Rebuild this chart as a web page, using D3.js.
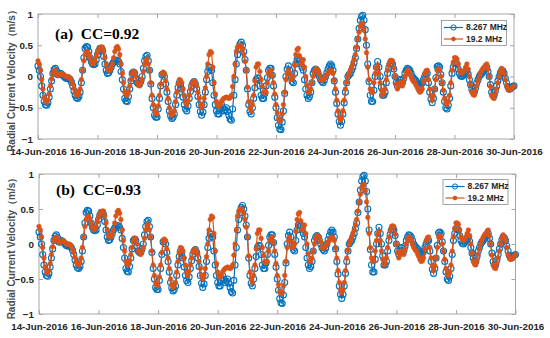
<!DOCTYPE html>
<html>
<head>
<meta charset="utf-8">
<script src="https://cdn.jsdelivr.net/npm/d3@7"></script>
<style>
  body { margin: 0; background: #fff; }
  svg { display: block; }
  .tick text { font-family: "Liberation Sans", Arial, sans-serif; font-weight: bold; }
</style>
</head>
<body>
<div id="chart"></div>
<script>
// radial current velocity (m/s), hourly from 14-Jun-2016 00:00, one row per day
const blue = [
  0.17, 0.1, 0.0, -0.15, -0.3, -0.4, -0.45, -0.46, -0.42, -0.33, -0.2, -0.07, 0.05, 0.11, 0.13, 0.09, 0.03, 0.03, 0.05, 0.04, 0.02, 0.0, -0.02, -0.03,
  -0.02, -0.03, -0.05, -0.09, -0.15, -0.23, -0.3, -0.34, -0.35, -0.32, -0.25, -0.1, 0.1, 0.3, 0.45, 0.48, 0.47, 0.4, 0.3, 0.24, 0.2, 0.19, 0.2, 0.27,
  0.35, 0.41, 0.45, 0.45, 0.42, 0.32, 0.2, 0.1, 0.05, 0.06, 0.1, 0.15, 0.2, 0.23, 0.25, 0.26, 0.26, 0.24, 0.2, 0.08, -0.05, -0.2, -0.35, -0.39,
  -0.4, -0.32, -0.2, -0.07, 0.05, 0.07, 0.05, -0.03, -0.1, -0.12, -0.12, -0.07, 0.0, 0.13, 0.25, 0.32, 0.34, 0.25, 0.1, -0.12, -0.35, -0.5, -0.62, -0.65,
  -0.65, -0.52, -0.35, -0.15, 0.03, 0.04, 0.0, -0.12, -0.25, -0.4, -0.55, -0.63, -0.67, -0.65, -0.6, -0.45, -0.3, -0.18, -0.1, -0.13, -0.2, -0.33, -0.45, -0.52,
  -0.55, -0.47, -0.35, -0.24, -0.15, -0.1, -0.08, -0.12, -0.2, -0.32, -0.45, -0.56, -0.62, -0.57, -0.45, -0.25, -0.05, 0.08, 0.15, 0.14, 0.1, -0.1, -0.3, -0.45,
  -0.55, -0.6, -0.6, -0.52, -0.45, -0.5, -0.55, -0.53, -0.5, -0.56, -0.62, -0.68, -0.7, -0.52, -0.3, -0.05, 0.2, 0.35, 0.45, 0.52, 0.55, 0.5, 0.4, 0.27,
  0.1, -0.2, -0.45, -0.56, -0.6, -0.5, -0.35, -0.18, -0.05, -0.02, -0.03, -0.15, -0.3, -0.35, -0.35, -0.27, -0.15, -0.02, 0.1, 0.13, 0.13, 0.02, -0.15, -0.33,
  -0.5, -0.66, -0.78, -0.84, -0.85, -0.73, -0.55, -0.27, 0.0, 0.12, 0.17, 0.1, 0.0, -0.08, -0.1, 0.05, 0.2, 0.27, 0.3, 0.27, 0.2, 0.15, 0.1, -0.05,
  -0.2, -0.3, -0.35, -0.32, -0.25, -0.1, 0.05, 0.1, 0.12, 0.1, 0.05, 0.0, -0.05, -0.08, -0.1, -0.06, 0.0, 0.06, 0.12, 0.17, 0.2, 0.17, 0.1, -0.07,
  -0.25, -0.43, -0.6, -0.72, -0.78, -0.72, -0.6, -0.42, -0.25, -0.1, 0.0, 0.03, 0.05, 0.1, 0.15, 0.22, 0.3, 0.45, 0.6, 0.77, 0.9, 0.96, 0.98, 0.9,
  0.75, 0.5, 0.2, -0.08, -0.3, -0.4, -0.4, -0.22, 0.0, 0.15, 0.24, 0.15, 0.0, -0.17, -0.3, -0.3, -0.25, -0.1, 0.05, 0.14, 0.2, 0.21, 0.2, 0.12,
  0.0, -0.1, -0.15, -0.1, -0.05, -0.06, -0.1, -0.03, 0.05, 0.1, 0.13, 0.12, 0.1, 0.05, 0.0, -0.03, -0.05, -0.07, -0.1, -0.13, -0.15, -0.13, -0.1, -0.05,
  0.0, 0.04, 0.05, -0.1, -0.25, -0.36, -0.42, -0.35, -0.2, -0.02, 0.16, 0.17, 0.15, 0.03, -0.1, -0.25, -0.4, -0.5, -0.52, -0.46, -0.35, -0.15, 0.05, 0.15,
  0.22, 0.22, 0.2, 0.12, 0.05, 0.01, 0.0, 0.02, 0.05, 0.08, 0.1, 0.04, -0.05, -0.13, -0.2, -0.24, -0.25, -0.18, -0.1, -0.05, 0.0, 0.03, 0.05, 0.08,
  0.1, 0.13, 0.15, 0.08, 0.0, -0.13, -0.25, -0.3, -0.3, -0.23, -0.15, -0.07, 0.0, 0.06, 0.1, 0.09, 0.05, -0.03, -0.1, -0.16, -0.2, -0.2, -0.17, -0.16,
  -0.15
];
const orange = [
  0.25, 0.2, 0.1, -0.05, -0.2, -0.33, -0.4, -0.41, -0.38, -0.28, -0.15, -0.04, 0.05, 0.09, 0.1, 0.06, 0.02, 0.02, 0.04, 0.05, 0.04, 0.02, 0.0, 0.0,
  0.0, -0.01, -0.03, -0.07, -0.12, -0.19, -0.25, -0.29, -0.3, -0.27, -0.2, -0.05, 0.1, 0.25, 0.35, 0.39, 0.4, 0.36, 0.3, 0.24, 0.2, 0.21, 0.25, 0.32,
  0.38, 0.43, 0.46, 0.47, 0.47, 0.4, 0.3, 0.2, 0.12, 0.1, 0.1, 0.14, 0.2, 0.3, 0.4, 0.46, 0.48, 0.44, 0.35, 0.2, 0.05, -0.1, -0.25, -0.29,
  -0.3, -0.24, -0.15, -0.05, 0.05, 0.08, 0.08, 0.0, -0.1, -0.14, -0.15, -0.11, -0.05, 0.08, 0.2, 0.26, 0.28, 0.2, 0.1, -0.1, -0.3, -0.45, -0.55, -0.59,
  -0.6, -0.47, -0.3, -0.12, 0.05, 0.07, 0.05, -0.07, -0.2, -0.35, -0.5, -0.58, -0.62, -0.6, -0.55, -0.4, -0.25, -0.12, -0.05, -0.06, -0.1, -0.2, -0.3, -0.4,
  -0.45, -0.39, -0.3, -0.2, -0.12, -0.09, -0.08, -0.1, -0.15, -0.25, -0.35, -0.45, -0.5, -0.45, -0.35, -0.18, 0.0, 0.2, 0.35, 0.4, 0.38, 0.15, -0.1, -0.28,
  -0.4, -0.46, -0.48, -0.45, -0.4, -0.37, -0.35, -0.34, -0.33, -0.34, -0.35, -0.34, -0.3, -0.16, 0.0, 0.2, 0.4, 0.47, 0.5, 0.5, 0.48, 0.43, 0.35, 0.24,
  0.1, -0.17, -0.4, -0.5, -0.55, -0.45, -0.3, -0.07, 0.15, 0.2, 0.2, 0.08, -0.05, -0.16, -0.25, -0.27, -0.25, -0.1, 0.05, 0.09, 0.1, 0.02, -0.1, -0.28,
  -0.45, -0.58, -0.68, -0.71, -0.7, -0.6, -0.45, -0.25, -0.05, 0.05, 0.1, 0.04, -0.05, -0.04, 0.0, 0.18, 0.35, 0.43, 0.45, 0.33, 0.2, 0.24, 0.27, 0.15,
  0.0, -0.14, -0.25, -0.25, -0.2, -0.1, 0.0, 0.07, 0.12, 0.12, 0.1, 0.03, -0.05, -0.06, -0.05, -0.03, 0.0, 0.03, 0.05, 0.08, 0.1, 0.09, 0.05, -0.06,
  -0.2, -0.38, -0.55, -0.65, -0.7, -0.65, -0.55, -0.38, -0.2, -0.09, 0.0, 0.05, 0.1, 0.15, 0.2, 0.27, 0.35, 0.47, 0.6, 0.71, 0.8, 0.84, 0.85, 0.76,
  0.6, 0.38, 0.15, -0.05, -0.2, -0.25, -0.25, -0.1, 0.05, 0.14, 0.18, 0.05, -0.1, -0.22, -0.3, -0.27, -0.2, -0.05, 0.1, 0.19, 0.25, 0.26, 0.25, 0.14,
  0.0, -0.12, -0.2, -0.15, -0.1, -0.12, -0.15, -0.08, 0.0, 0.06, 0.1, 0.09, 0.05, 0.0, -0.05, -0.08, -0.1, -0.14, -0.18, -0.22, -0.25, -0.24, -0.2, -0.07,
  0.05, 0.09, 0.1, -0.05, -0.2, -0.31, -0.38, -0.31, -0.2, -0.05, 0.1, 0.12, 0.1, 0.0, -0.1, -0.22, -0.35, -0.42, -0.45, -0.4, -0.3, -0.1, 0.1, 0.22,
  0.3, 0.3, 0.28, 0.2, 0.1, 0.07, 0.05, 0.07, 0.1, 0.15, 0.2, 0.12, 0.0, -0.13, -0.25, -0.29, -0.3, -0.23, -0.15, -0.07, 0.0, 0.06, 0.1, 0.13,
  0.15, 0.18, 0.2, 0.12, 0.0, -0.16, -0.3, -0.34, -0.35, -0.28, -0.2, -0.1, 0.0, 0.08, 0.13, 0.1, 0.05, -0.05, -0.15, -0.19, -0.22, -0.21, -0.2, -0.17,
  -0.15
];
const seriesNames = ["8.267 MHz", "19.2 MHz"];
const panelLabels = ["(a)  CC=0.92", "(b)  CC=0.93"];
const yTicks = [-1, -0.5, 0, 0.5, 1];
const tStart = new Date(2016, 5, 14);
const tEnd = new Date(2016, 5, 30);

const colors = ["#0072BD", "#D95319"];
const markerR = [3, 2.3];
const xTicks = d3.timeDay.range(tStart, d3.timeHour.offset(tEnd, 1), 2);

const svg = d3.select("#chart").append("svg")
    .attr("width", 550)
    .attr("height", 338);

function drawPanel(p) {
    let x = d3.scaleTime().domain([tStart, tEnd]).range([p.left, p.right]);
    let y = d3.scaleLinear().domain([-1, 1]).range([p.bottom, p.top]);
    let g = svg.append("g");
    let axisCol = "#a6a6a6";

    // box + mirrored inward ticks
    g.append("rect")
        .attr("x", p.left).attr("y", p.top)
        .attr("width", p.right - p.left).attr("height", p.bottom - p.top)
        .attr("fill", "none").attr("stroke", axisCol).attr("stroke-width", 1);

    let xAxis = g.append("g")
        .attr("transform", `translate(0,${p.bottom})`)
        .call(d3.axisBottom(x).tickValues(xTicks)
            .tickFormat(d3.timeFormat("%d-%b-%Y")).tickSizeInner(-4).tickSizeOuter(0).tickPadding(9));
    xAxis.select(".domain").remove();
    xAxis.selectAll(".tick line").attr("stroke", axisCol);
    xAxis.selectAll(".tick text").attr("font-size", 9.8).attr("fill", "#262626");

    let xTop = g.append("g")
        .attr("transform", `translate(0,${p.top})`)
        .call(d3.axisTop(x).tickValues(xTicks).tickFormat("").tickSizeInner(-4).tickSizeOuter(0));
    xTop.select(".domain").remove();
    xTop.selectAll(".tick line").attr("stroke", axisCol);

    let yAxis = g.append("g")
        .attr("transform", `translate(${p.left},0)`)
        .call(d3.axisLeft(y).tickValues(yTicks).tickFormat(d3.format("")).tickSizeInner(-4).tickSizeOuter(0).tickPadding(p.yPad));
    yAxis.select(".domain").remove();
    yAxis.selectAll(".tick line").attr("stroke", axisCol);
    yAxis.selectAll(".tick text").attr("font-size", 9.8).attr("fill", "#262626");

    let yRight = g.append("g")
        .attr("transform", `translate(${p.right},0)`)
        .call(d3.axisRight(y).tickValues(yTicks).tickFormat("").tickSizeInner(-4).tickSizeOuter(0));
    yRight.select(".domain").remove();
    yRight.selectAll(".tick line").attr("stroke", axisCol);

    // y label
    g.append("text")
        .attr("transform", `translate(${p.yLabelX},${(p.top + p.bottom) / 2 + 2}) rotate(-90)`)
        .attr("text-anchor", "middle")
        .attr("font-family", "Liberation Sans, Arial, sans-serif")
        .attr("font-weight", "bold")
        .attr("font-size", 10)
        .attr("fill", "#4d4d4d")
        .text("Radial Current Velocity（m/s）");

    // series: line + markers
    [p.b, p.o].forEach((vals, k) => {
        let line = d3.line().x((d, i) => x(d3.timeHour.offset(tStart, i))).y(d => y(d));
        g.append("path")
            .datum(vals)
            .attr("d", line)
            .attr("fill", "none")
            .attr("stroke", colors[k])
            .attr("stroke-width", 1.2);
        g.append("g").selectAll("circle")
            .data(vals)
            .join("circle")
            .attr("cx", (d, i) => x(d3.timeHour.offset(tStart, i)))
            .attr("cy", d => y(d))
            .attr("r", markerR[k])
            .attr("fill", k == 0 ? "none" : colors[k])
            .attr("stroke", colors[k])
            .attr("stroke-width", k == 0 ? 1.1 : 0.6);
    });

    // panel label
    g.append("text")
        .attr("x", p.left + 17)
        .attr("y", p.labelY)
        .attr("font-family", "Liberation Serif, Times New Roman, serif")
        .attr("font-weight", "bold")
        .attr("font-size", 15.5)
        .attr("fill", "#000")
        .style("white-space", "pre")
        .text(p.label);

    // legend
    let lg = g.append("g").attr("transform", `translate(${p.legX},${p.legY})`);
    lg.append("rect")
        .attr("width", 65).attr("height", 25)
        .attr("fill", "#fff").attr("stroke", "#8c8c8c").attr("stroke-width", 0.8);
    seriesNames.forEach((name, k) => {
        let yy = 7 + k * 11.5;
        lg.append("line")
            .attr("x1", 2.5).attr("x2", 21.5).attr("y1", yy).attr("y2", yy)
            .attr("stroke", colors[k]).attr("stroke-width", 1.2);
        lg.append("circle")
            .attr("cx", 12).attr("cy", yy)
            .attr("r", k == 0 ? 2.6 : 1.9)
            .attr("fill", k == 0 ? "none" : colors[k])
            .attr("stroke", colors[k]).attr("stroke-width", 1);
        lg.append("text")
            .attr("x", 24.5).attr("y", yy)
            .attr("dy", "0.35em")
            .attr("font-family", "Liberation Sans, Arial, sans-serif")
            .attr("font-weight", "bold")
            .attr("font-size", 8.5)
            .attr("fill", "#262626")
            .text(name);
    });
}

drawPanel({left: 38, right: 514, top: 14, bottom: 139, yPad: 5, yLabelX: 15,
    labelY: 39, legX: 441.5, legY: 20.5, label: panelLabels[0], b: blue, o: orange});
drawPanel({left: 39, right: 515.5, top: 174, bottom: 314, yPad: 5, yLabelX: 15,
    labelY: 195, legX: 443, legY: 179.5, label: panelLabels[1], b: blue, o: orange});
</script>
</body>
</html>
